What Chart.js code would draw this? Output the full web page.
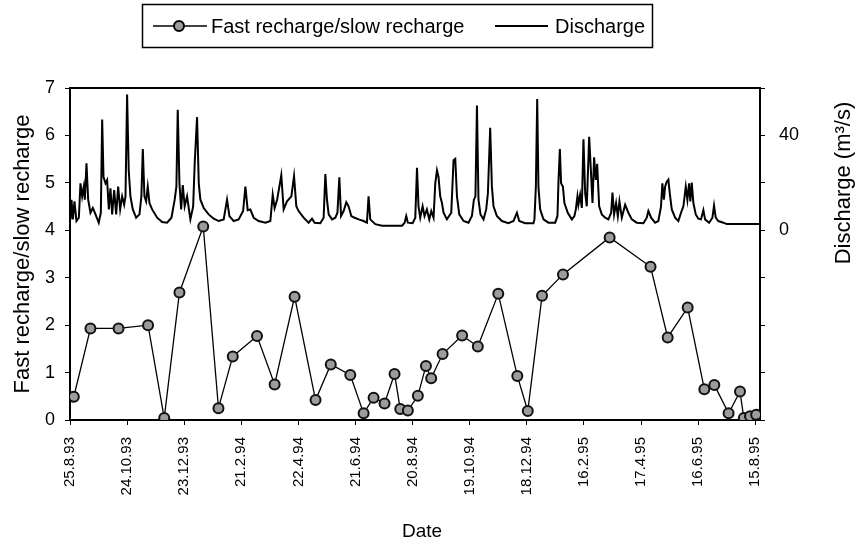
<!DOCTYPE html>
<html>
<head>
<meta charset="utf-8">
<script src="https://cdn.jsdelivr.net/npm/chart.js@4.4.1/dist/chart.umd.min.js"></script>
<style>
  body { margin: 0; background: #fff; }
  #wrap { width: 861px; height: 546px; }
</style>
</head>
<body>
<div id="wrap"><canvas id="chart" width="861" height="546"></canvas></div>
<script>
// x values are days counted from 25.8.93, one tick every 60 days
const tickLabels = ['25.8.93', '24.10.93', '23.12.93', '21.2.94', '22.4.94', '21.6.94', '20.8.94',
  '19.10.94', '18.12.94', '16.2.95', '17.4.95', '16.6.95', '15.8.95'];

const rechargeDays = [4, 21.5, 51, 82, 99, 115, 140, 156, 171, 196.5, 215, 236, 258, 274, 294.5,
  308.5, 319, 330.5, 341, 347, 355, 365.5, 374, 379.5, 391.5, 412, 428.5, 450, 470, 481, 496,
  518, 567, 610, 628, 649, 666.5, 677, 692, 704, 708, 714.5, 721];
const rechargeRatio = [0.49, 1.93, 1.93, 2.0, 0.04, 2.69, 4.08, 0.25, 1.34, 1.77, 0.75, 2.6, 0.42,
  1.17, 0.95, 0.14, 0.47, 0.35, 0.97, 0.23, 0.2, 0.51, 1.14, 0.88, 1.39, 1.78, 1.55, 2.66, 0.93,
  0.19, 2.62, 3.07, 3.85, 3.23, 1.74, 2.37, 0.65, 0.74, 0.14, 0.6, 0.04, 0.08, 0.11];

const dischargeDays = [0.5, 1.6, 3, 4.7, 6.8, 9.3, 11, 12.8, 14.5, 15.6, 17.3, 19.1, 21.5, 24, 26.8,
  30.2, 32.4, 33.8, 35.2, 37.3, 39, 40.8, 42.5, 44.3, 46.4, 48.5, 50.6, 52.7, 54.8, 56.9, 58.3,
  60, 61.7, 63.5, 66, 69.5, 73, 75, 76.5, 78.2, 80, 81.7, 83.5, 86.3, 91.6, 96.8, 102, 106.6,
  110, 111.8, 113.2, 115, 116.8, 118.5, 120.5, 123, 126.5, 129.4, 131, 133.5, 135.3, 137,
  140.5, 145.7, 151, 156.2, 161.5, 165, 167.5, 172, 177.2, 181.9, 184.3, 186.7, 189.5, 193,
  198.2, 205.3, 210.5, 213, 215, 217.6, 220, 222, 224.5, 228, 232.6, 235.4, 237.8, 240.2,
  245.5, 250.7, 254.3, 257, 263, 266.5, 268.3, 270, 271.8, 275.3, 278.8, 281, 283, 284.8,
  287.5, 290.3, 292.7, 295.6, 299, 303.3, 308.5, 312, 313.7, 315.5, 320.8, 327.8, 348.8,
  351.6, 353.3, 355, 360, 362.8, 364.6, 366.2, 368, 370.5, 372.5, 375, 377.5, 379.6, 382,
  383.8, 385.6, 387.2, 389, 390.8, 392.5, 396, 400.6, 403, 404.8, 406.6, 409, 413.5, 418.7,
  422.3, 424.4, 426, 427.6, 429.2, 431.3, 434.5, 437.3, 439.1, 441.5, 443.3, 445, 448.5,
  453.8, 460.7, 466, 469.6, 472, 478.3, 487, 488, 489.5, 490.9, 492.2, 494, 497.5, 502.7,
  509.8, 512.2, 513.2, 514.7, 516, 517.9, 519.5, 523, 527.3, 530, 531.5, 533.2, 534.2, 536,
  537.8, 539.5, 541.3, 543, 545.5, 547.3, 549, 550.7, 552.5, 553.9, 556, 558.8, 562.3, 565.7,
  568.6, 570, 571.7, 573.8, 575.6, 577.3, 579.8, 583.3, 586.7, 590.3, 595.5, 602.5, 606,
  607.7, 610.6, 614.8, 618.2, 621, 622.4, 624, 625.3, 627, 628.7, 630.2, 632.3, 635.8, 639.2,
  642, 644.5, 647, 648.7, 650.5, 651.8, 653.3, 655, 657.5, 660.2, 663, 665.5, 667.3, 671.5,
  675, 676.7, 678.5, 681.2, 686.5, 690, 725];
const dischargeFlow = [4.6, 12.9, 4.6, 12.2, 3.9, 5.3, 19.8, 14.3, 18.4, 12.9, 28.3, 12.9, 7.4, 9.4,
  6.7, 3.2, 7.4, 46.7, 22.5, 19.8, 21.2, 8.8, 17.7, 6.7, 17, 6.7, 18.4, 8.8, 14.3, 10.8, 14.3,
  57.3, 25.3, 14.3, 8.8, 5.3, 6.7, 14.3, 34.3, 14.3, 12.2, 18.4, 11.5, 8.8, 5.3, 3.5, 3.2, 5.3,
  12.9, 18.4, 50.8, 19.8, 8.8, 19.1, 10.1, 14.3, 4.6, 10.1, 28, 47.7, 19.8, 12.9,
  9.4, 6.7, 4.9, 3.9, 4.6, 12.9, 6, 3.9, 4.6, 8.1, 18.4, 8.5, 8.8, 5.3,
  3.9, 3.2, 3.9, 15, 9.4, 12.9, 18.4, 23.2, 8.8, 12.2, 14.3, 22.8, 10.1, 8.1,
  5.3, 3.2, 4.9, 3.2, 3, 5.3, 23.7, 12.9, 6.7, 4.6, 5.3, 7.4, 22.3, 6,
  8.1, 11.8, 10.1, 6, 5.3, 4.6, 3.9, 3.2, 14.3, 4.6, 2.6, 1.9, 1.9,
  3.2, 6, 3.2, 3, 5.3, 26.4, 10.1, 5.3, 10.1, 6, 8.8, 4.6, 8.1, 5.3,
  19.8, 25.3, 22.5, 14.3, 11.5, 7.4, 4.6, 7.4, 29.5, 30.1, 14.3, 6.7, 3.9, 3.2,
  6, 12.9, 14.3, 52.6, 12.9, 6.7, 4.6, 8.8, 15.6, 43.2, 18.4, 10.1, 6,
  3.9, 3, 3.9, 7.4, 3.9, 3, 3, 4.6, 18.4, 55.4, 18.4, 8.8, 4.6, 3.2,
  3.2, 6, 19.8, 34.3, 19.8, 18.4, 11.5, 7.4, 4.6, 6, 8.8, 14.3, 10.8, 15,
  9.4, 38.4, 15.6, 10.1, 39.4, 25.3, 11.5, 30.8, 21.2, 28, 10.1, 6.7, 5.3, 4.6,
  7.4, 15.9, 6.7, 11.5, 6, 12.2, 5.3, 10.8, 7.4, 4.6, 3.2, 3, 5.3,
  8.1, 5.3, 3.2, 3.9, 10.1, 19.8, 12.9, 18.4, 20.5, 21.4, 15.6, 8.8, 5.3, 3.9,
  7.4, 10.1, 18.4, 12.9, 19.8, 12.2, 20.1, 11.5, 6.7, 4.9, 4.6, 8.5, 4.6, 3.2,
  5.3, 10.4, 5.3, 3.9, 3.2, 2.6, 2.6];

const FONT = '"Liberation Sans", Arial, Helvetica, sans-serif';
Chart.defaults.font.family = FONT;
Chart.defaults.color = '#000';

function toPoints(xs, ys) {
  return xs.map((x, i) => ({ x: x, y: ys[i] }));
}

// boxed legend, top frame line and the axis titles drawn by hand
const extras = {
  id: 'extras',
  afterDraw(chart) {
    const ctx = chart.ctx;
    const area = chart.chartArea;
    const sets = chart.data.datasets;
    ctx.save();

    ctx.strokeStyle = '#000';
    ctx.lineWidth = 2;
    ctx.beginPath();
    ctx.moveTo(area.left, area.top);
    ctx.lineTo(area.right, area.top);
    ctx.stroke();

    ctx.lineWidth = 1.5;
    ctx.strokeRect(142.5, 4.5, 510, 43);

    const ly = 26;
    ctx.lineWidth = 1.5;
    ctx.beginPath();
    ctx.moveTo(153, ly);
    ctx.lineTo(207, ly);
    ctx.stroke();
    ctx.beginPath();
    ctx.arc(179, ly, 5, 0, Math.PI * 2);
    ctx.fillStyle = '#9c9c9c';
    ctx.fill();
    ctx.lineWidth = 2;
    ctx.stroke();

    ctx.lineWidth = 2;
    ctx.beginPath();
    ctx.moveTo(495, ly);
    ctx.lineTo(548, ly);
    ctx.stroke();

    ctx.fillStyle = '#000';
    ctx.font = '20px ' + FONT;
    ctx.textBaseline = 'middle';
    ctx.textAlign = 'left';
    ctx.fillText(sets[0].label, 211, ly + 1);
    ctx.fillText(sets[1].label, 555, ly + 1);

    ctx.textAlign = 'center';
    ctx.font = '19px ' + FONT;
    ctx.fillText('Date', 422, 532);

    ctx.translate(844, 183);
    ctx.rotate(-Math.PI / 2);
    ctx.font = '22px ' + FONT;
    ctx.fillText('Discharge (m³/s)', 0, 0);
    ctx.restore();
  }
};

new Chart(document.getElementById('chart'), {
  type: 'line',
  data: {
    datasets: [{
      label: 'Fast recharge/slow recharge',
      data: toPoints(rechargeDays, rechargeRatio),
      yAxisID: 'y',
      borderColor: '#000',
      borderWidth: 1.3,
      pointRadius: 5,
      pointBorderWidth: 2,
      pointBorderColor: '#111',
      pointBackgroundColor: '#9c9c9c',
      tension: 0
    }, {
      label: 'Discharge',
      data: toPoints(dischargeDays, dischargeFlow),
      yAxisID: 'y1',
      borderColor: '#000',
      borderWidth: 2,
      pointRadius: 0,
      tension: 0
    }]
  },
  options: {
    responsive: false,
    animation: false,
    layout: { padding: { top: 88 } },
    plugins: { legend: { display: false }, tooltip: { enabled: false } },
    scales: {
      x: {
        type: 'linear',
        min: 0,
        max: 725,
        afterFit: s => { s.height = 126; },
        border: { color: '#000', width: 2 },
        grid: { drawOnChartArea: false, tickLength: 5, color: '#000' },
        ticks: {
          stepSize: 60,
          includeBounds: false,
          autoSkip: false,
          minRotation: 90,
          maxRotation: 90,
          padding: 12,
          font: { size: 15 },
          callback: v => tickLabels[Math.round(v / 60)]
        }
      },
      y: {
        position: 'left',
        min: 0,
        max: 7,
        afterFit: s => { s.width = 70; },
        border: { color: '#000', width: 2 },
        grid: { drawOnChartArea: false, tickLength: 5, color: '#000' },
        ticks: { stepSize: 1, padding: 10, font: { size: 18 } },
        title: { display: true, text: 'Fast recharge/slow recharge', font: { size: 22 }, padding: { top: 10 } }
      },
      y1: {
        position: 'right',
        min: -80,
        max: 60,
        afterFit: s => { s.width = 101; },
        border: { color: '#000', width: 2 },
        grid: { drawOnChartArea: false, tickLength: 5, color: '#000' },
        ticks: {
          stepSize: 20,
          padding: 14,
          font: { size: 18 },
          callback: v => (v === 0 || v === 40) ? v : ''
        }
      }
    }
  },
  plugins: [extras]
});
</script>
</body>
</html>
